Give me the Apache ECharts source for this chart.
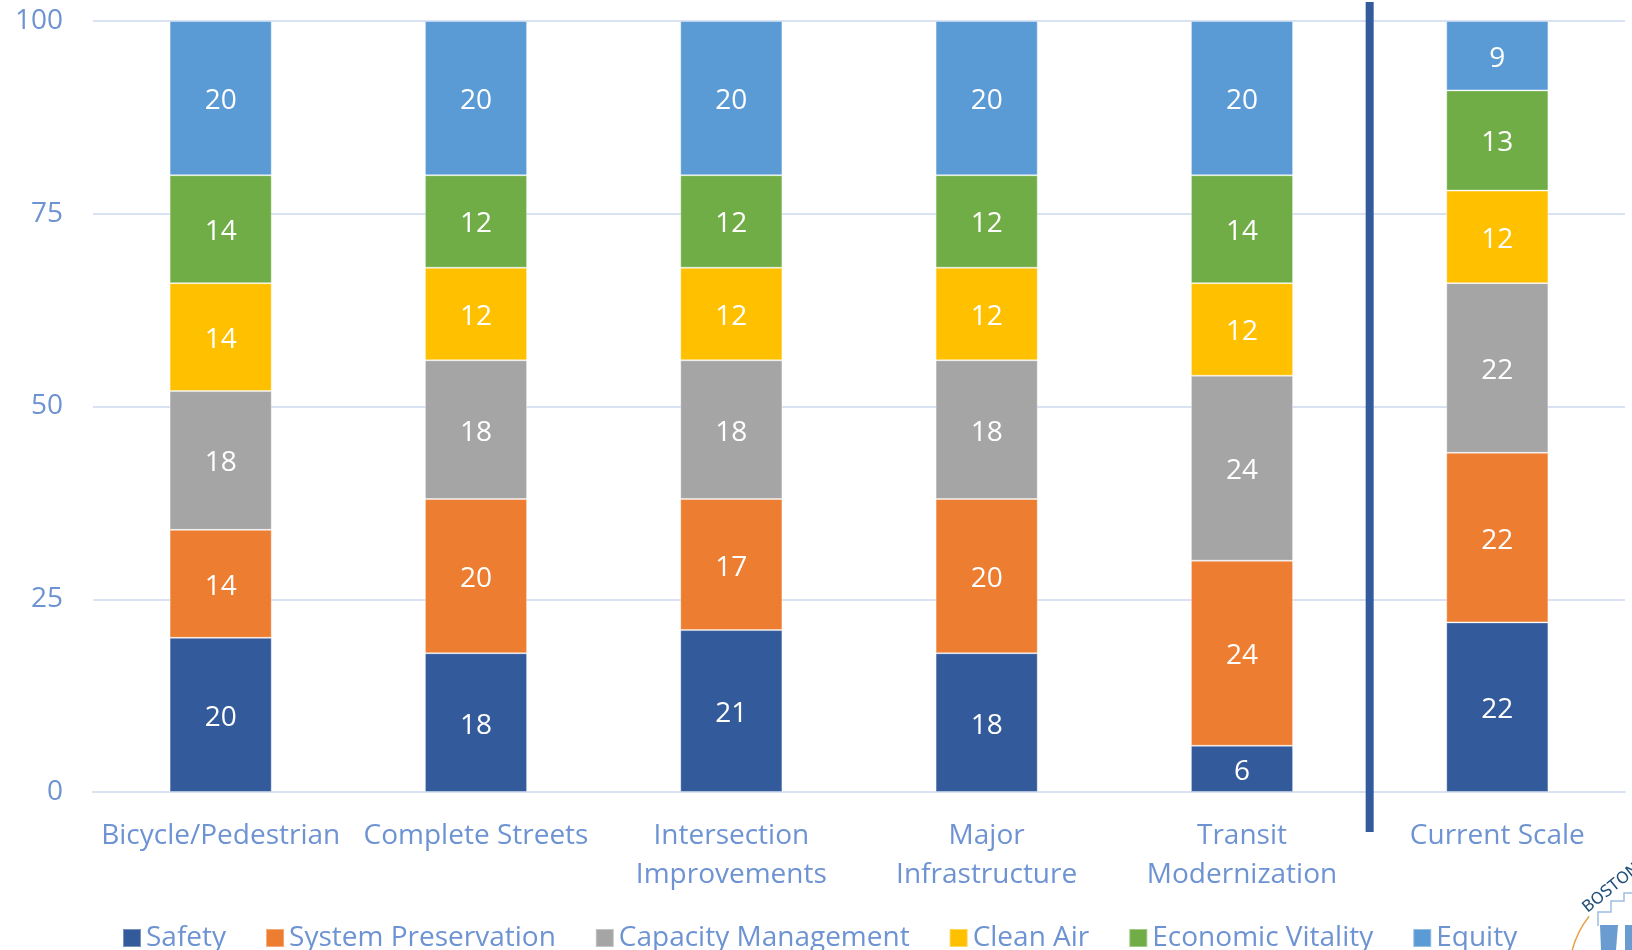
<!DOCTYPE html>
<html>
<head>
<meta charset="utf-8">
<script src="https://cdn.jsdelivr.net/npm/echarts@6/dist/echarts.min.js"></script>
<style>html,body{margin:0;padding:0;background:#fff}#c{width:1632px;height:950px}</style>
</head>
<body>
<div id="c"></div>
<script>
const categories = ['Bicycle/Pedestrian', 'Complete Streets', 'Intersection\nImprovements', 'Major\nInfrastructure', 'Transit\nModernization', 'Current Scale'];
const safety = [20, 18, 21, 18, 6, 22];
const systemPreservation = [14, 20, 17, 20, 24, 22];
const capacityManagement = [18, 18, 18, 18, 24, 22];
const cleanAir = [14, 12, 12, 12, 12, 12];
const economicVitality = [14, 12, 12, 12, 14, 13];
const equity = [20, 20, 20, 20, 20, 9];
const yTicks = [0, 25, 50, 75, 100];

const FONT = 'Open Sans';
const FS = 28;
const TXT = '#6E93D3';
const seriesDefs = [
  ['Safety', safety, '#335A9A'],
  ['System Preservation', systemPreservation, '#ED7D31'],
  ['Capacity Management', capacityManagement, '#A5A5A5'],
  ['Clean Air', cleanAir, '#FFC000'],
  ['Economic Vitality', economicVitality, '#70AD47'],
  ['Equity', equity, '#5B9BD5']
];

const chart = echarts.init(document.getElementById('c'), null, {renderer: 'canvas'});
const option = {
  animation: false,
  textStyle: {fontFamily: FONT},
  grid: {left: 93, right: 7, top: 21, bottom: 158, containLabel: false},
  legend: {
    left: 117, top: 919,
    itemWidth: 18, itemHeight: 18, itemGap: 39,
    icon: 'rect',
    textStyle: {color: TXT, fontSize: FS, fontFamily: FONT},
    data: seriesDefs.map(d => d[0])
  },
  xAxis: {
    type: 'category',
    data: categories,
    axisLine: {show: true, lineStyle: {color: '#D9E2F3', width: 2}},
    axisTick: {show: false},
    axisLabel: {color: TXT, fontSize: FS, fontFamily: FONT, lineHeight: 39, margin: 25, interval: 0}
  },
  yAxis: {
    type: 'value', min: yTicks[0], max: yTicks[yTicks.length - 1], interval: 25,
    axisLine: {show: false}, axisTick: {show: false},
    splitLine: {lineStyle: {color: '#D9E2F3', width: 2}},
    axisLabel: {color: TXT, fontSize: FS, fontFamily: FONT, margin: 30, padding: [4, 0, 0, 0]}
  },
  series: seriesDefs.map(d => ({
    name: d[0], type: 'bar', stack: 'all', data: d[1], barWidth: '40%',
    itemStyle: {color: d[2], borderColor: 'rgba(255,255,255,0.35)', borderWidth: 1},
    label: {show: true, position: 'inside', offset: [0, 3], color: '#fff', fontSize: FS, fontFamily: FONT}
  }))
};
chart.setOption(option);

// vertical separator between Transit and Current Scale, plus logo fragment
const xa = chart.convertToPixel({xAxisIndex: 0}, categories[4]);
const xb = chart.convertToPixel({xAxisIndex: 0}, categories[5]);
const sepX = (xa + xb) / 2;
const y0 = chart.convertToPixel({yAxisIndex: 0}, 0);
chart.setOption({
  graphic: [
    {type: 'rect', shape: {x: sepX - 4, y: 2, width: 8, height: y0 + 40 - 2}, style: {fill: '#335A9A'}, z: 10},
    {type: 'group', x: 0, y: 0, children: [
      {type: 'arc', shape: {cx: 1665, cy: 975, r: 96, startAngle: 3.2, endAngle: 3.8}, style: {stroke: '#E8A24A', lineWidth: 1.5, fill: null}},
      {type: 'text', x: 1590, y: 916, rotation: 0.68, style: {text: 'BOSTON', x: 0, y: 0, verticalAlign: 'bottom', fill: '#1F4E79', font: '16px "DejaVu Sans"'}},
      {type: 'polyline', shape: {points: [[1598, 926], [1598, 912], [1611, 912], [1611, 901], [1624, 901], [1624, 893], [1632, 893]]}, style: {stroke: '#9DBDE3', lineWidth: 1.5, fill: null}},
      {type: 'polygon', shape: {points: [[1600, 925], [1618, 925], [1616, 950], [1601, 950]]}, style: {fill: '#6A9BD1'}},
      {type: 'rect', shape: {x: 1625, y: 925, width: 8, height: 25}, style: {fill: '#6A9BD1'}}
    ]}
  ]
});
</script>
</body>
</html>
